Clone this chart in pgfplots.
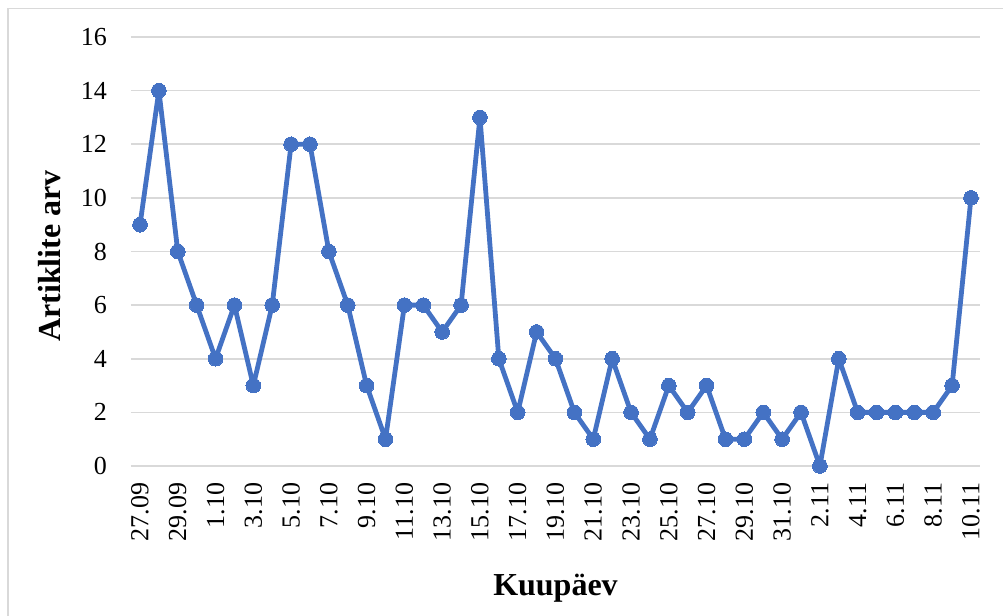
\documentclass[border=0pt]{standalone}
\usepackage{pgfplots}
\pgfplotsset{compat=1.18}
\usepackage{fontspec}
\setmainfont{Liberation Serif}
\definecolor{linec}{HTML}{4472C4}
\definecolor{gridc}{HTML}{D9D9D9}
\begin{document}
\begin{tikzpicture}[x=0.75pt,y=0.75pt]
% pixel (px,py) -> ((px-131), (466-py)) in 0.75pt units
\useasboundingbox (-131,466) rectangle (872,-150);
\draw[gridc,line width=1.2pt] (-123,457.5) -- (872,457.5);
\draw[gridc,line width=1.2pt] (-123,457.5) -- (-123,-150);
\begin{axis}[
  at={(0,0)}, anchor=south west,
  scale only axis,
  width=636.75pt, height=321.75pt,
  xmin=-0.477, xmax=44.477,
  ymin=0, ymax=16,
  ytick={0,2,...,16},
  xtick={0,2,...,44},
  xticklabels={27.09,29.09,1.10,3.10,5.10,7.10,9.10,11.10,13.10,15.10,17.10,19.10,21.10,23.10,25.10,27.10,29.10,31.10,2.11,4.11,6.11,8.11,10.11},
  x tick label style={rotate=90, anchor=east, font=\fontsize{19.5}{19.5}\selectfont},
  y tick label style={font=\fontsize{19.5}{19.5}\selectfont, xshift=-3pt},
  /pgf/number format/assume math mode=true,
  axis line style={draw=none},
  tick style={draw=none},
  ymajorgrids, xmajorgrids=false,
  grid style={draw=gridc, line width=1.2pt},
  xticklabel shift=9pt,
  yticklabel shift=11.5pt,
  xlabel={\textbf{Kuupäev}},
  ylabel={\textbf{Artiklite arv}},
  label style={font=\fontsize{24}{24}\selectfont},
  xlabel style={at={(axis description cs:0.5,-0.2844)}, anchor=center},
  ylabel style={at={(axis description cs:-0.0954,0.4895)}, anchor=center},
  clip=false,
]
\addplot[linec, line width=3.6pt, line join=round, mark=*, mark size=5.5pt, mark options={fill=linec, draw=linec, line width=0pt}] coordinates {
(0,9) (1,14) (2,8) (3,6) (4,4) (5,6) (6,3) (7,6) (8,12) (9,12)
(10,8) (11,6) (12,3) (13,1) (14,6) (15,6) (16,5) (17,6) (18,13) (19,4)
(20,2) (21,5) (22,4) (23,2) (24,1) (25,4) (26,2) (27,1) (28,3) (29,2)
(30,3) (31,1) (32,1) (33,2) (34,1) (35,2) (36,0) (37,4) (38,2) (39,2)
(40,2) (41,2) (42,2) (43,3) (44,10)
};
\end{axis}
\end{tikzpicture}
\end{document}
